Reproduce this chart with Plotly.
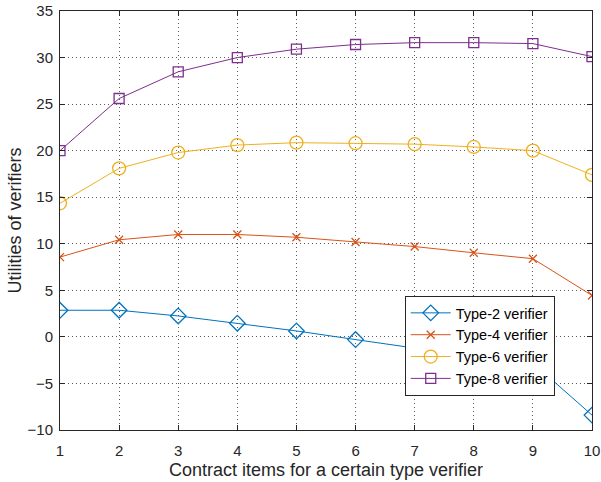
import plotly.graph_objects as go

x_items = [1, 2, 3, 4, 5, 6, 7, 8, 9, 10]
type2 = [2.86, 2.86, 2.25, 1.47, 0.64, -0.29, -1.2, -2.0, -2.8, -8.4]
type4 = [8.57, 10.43, 11.0, 11.0, 10.7, 10.2, 9.7, 9.03, 8.4, 4.45]
type6 = [14.35, 18.1, 19.8, 20.6, 20.86, 20.8, 20.7, 20.4, 20.0, 17.4]
type8 = [20.0, 25.6, 28.47, 30.0, 30.9, 31.4, 31.6, 31.6, 31.5, 30.1]

names = ["Type-2 verifier", "Type-4 verifier", "Type-6 verifier", "Type-8 verifier"]
colors = ["#0072BD", "#D95319", "#EDB120", "#7E2F8E"]
symbols = ["diamond-open", "x-thin-open", "circle-open", "square-open"]
sizes = [12, 8, 13, 10]

fig = go.Figure()
for ys, n, c, s, sz in zip([type2, type4, type6, type8], names, colors, symbols, sizes):
    fig.add_trace(go.Scatter(
        x=x_items, y=ys, name=n, mode="lines+markers",
        line=dict(color=c, width=1),
        marker=dict(symbol=s, size=sz, color=c, line=dict(color=c, width=1.3)),
    ))

FONT = "Arial, Liberation Sans, sans-serif"
axis_common = dict(
    showline=True, linecolor="#262626", linewidth=1, mirror="ticks",
    ticks="inside", ticklen=5, tickcolor="#262626",
    showgrid=True, gridcolor="rgba(38,38,38,0.75)", griddash="1px,3px", gridwidth=1,
    zeroline=False, automargin=False,
    tickfont=dict(family=FONT, size=15, color="#262626"),
)

fig.update_layout(
    width=601, height=482,
    margin=dict(l=60, r=9, t=11, b=52),
    plot_bgcolor="white", paper_bgcolor="white",
    xaxis=dict(range=[1, 10], tickvals=x_items, ticklabelstandoff=7, **axis_common,
               title=dict(text="Contract items for a certain type verifier",
                          font=dict(family=FONT, size=18, color="#262626"),
                          standoff=5)),
    yaxis=dict(range=[-10, 35], tickvals=list(range(-10, 36, 5)), ticklabelstandoff=3,
               **axis_common,
               title=dict(text="Utilities of verifiers",
                          font=dict(family=FONT, size=18, color="#262626"),
                          standoff=1)),
    legend=dict(x=0.648, y=0.32, xanchor="left", yanchor="top",
                bgcolor="white", bordercolor="#262626", borderwidth=1,
                font=dict(family=FONT, size=14.5, color="#000000"),
                tracegroupgap=0, itemwidth=40),
    showlegend=True,
)

fig.write_html("out.html")
